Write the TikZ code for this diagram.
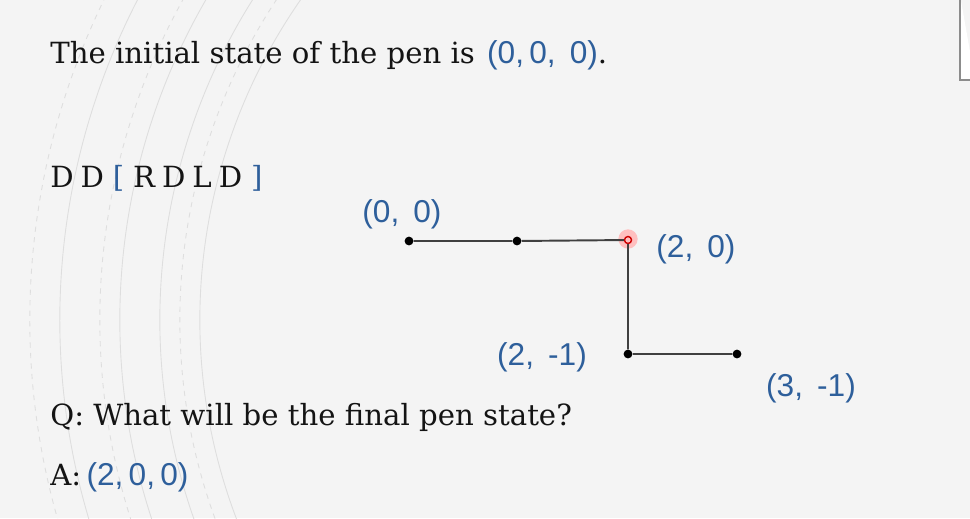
\documentclass[tikz,border=0pt]{standalone}
\usepackage{fontspec}
\setmainfont{DejaVu Serif}
\newfontfamily\coordfont{Liberation Sans}
\usetikzlibrary{calc}
\tikzset{>=stealth}
\definecolor{pblue}{RGB}{46,95,155}
\definecolor{bgray}{RGB}{244,244,244}
\tikzset{
  txt/.style={anchor=base west,inner sep=0pt,font=\fontsize{16.6}{20}\selectfont,text=black!92},
  crd/.style={inner sep=0pt,font=\coordfont\fontsize{18}{21}\selectfont,text=pblue},
  dot/.style={circle,fill=black,inner sep=0pt,minimum size=5pt},
  penline/.style={draw=black!75,line width=1.1pt}
}
\newcommand{\bluecrd}[1]{{\coordfont\fontsize{18}{21}\selectfont\color{pblue}#1}}
\begin{document}
\begin{tikzpicture}[x=0.02cm,y=-0.02cm]
    \fill[bgray] (0,0) rectangle (970,518);
    \useasboundingbox (0,0) rectangle (970,518);
    \foreach \r in {560,600,640,700} {
        \draw[black!13,line width=.5pt] (760,320) ++(110:\r) arc (110:250:\r);
      }
    \foreach \r in {580,660,730} {
        \draw[black!13,line width=.5pt,dashed] (760,320) ++(110:\r) arc (110:250:\r);
      }
    \draw[black!45,fill=white,line width=1pt] (960,-5) -- (960,80) -- (975,80);
    \node[txt] (intro) at (50,63) {The initial state of the pen is\hspace{7pt}\bluecrd{(0,\,0,\ \,0)}.};
    \node[txt] (prog) at (50,187) {D\hspace{4pt}D\hspace{5pt}{\color{pblue}[}\hspace{5pt}R\hspace{4pt}D\hspace{4pt}L\hspace{4pt}D\hspace{5pt}{\color{pblue}]}};
    \node[dot] (p0) at (409,241) {};
    \node[dot] (p1) at (517,241) {};
    \node[circle,fill=red!25,inner sep=0pt,minimum size=11pt] (halo) at (628,239) {};
    \node[circle,draw=red!80!black,line width=.8pt,inner sep=0pt,minimum size=4pt] (p2) at (628,240) {};
    \node[dot] (p3) at (628,354) {};
    \node[dot] (p4) at (737,354) {};
    \draw[penline] (p0) -- (p1) -- (p2) -- (p3) -- (p4);
    \node[crd] (l0) at (402,214) {(0,\ \,0)};
    \node[crd] (l2) at (696,249) {(2,\ \,0)};
    \node[crd] (l3) at (542,357) {(2,\ \,-1)};
    \node[crd] (l4) at (811,388) {(3,\ \,-1)};
    \node[txt] (ques) at (50,425) {Q: What will be the final pen state?};
    \node[txt] (ans) at (50,485) {A:\hspace{3pt}\bluecrd{(2,\,0,\,0)}};
  \end{tikzpicture}
\end{document}
